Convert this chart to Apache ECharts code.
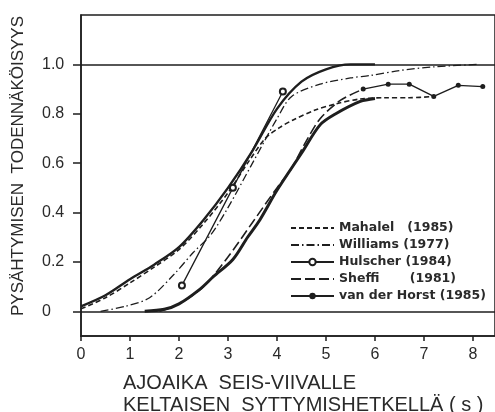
<!DOCTYPE html>
<html>
<head>
<meta charset="utf-8">
<script src="https://cdn.jsdelivr.net/npm/echarts@6/dist/echarts.min.js"></script>
<style>html,body{margin:0;padding:0;background:#fff}#c{width:495px;height:412px}</style>
</head>
<body>
<div id="c"></div>
<script>
// Tick values
const xTicks = [0, 1, 2, 3, 4, 5, 6, 7, 8];
const yTicks = [0, 0.2, 0.4, 0.6, 0.8, 1.0];

// Curves: [time (s), probability]
const vdhPlateau = [[5.76, 0.90], [6.27, 0.92], [6.7, 0.92], [7.2, 0.87], [7.7, 0.915], [8.2, 0.91]];
const vdhLeft = [[0, 0.02], [0.5, 0.065], [1, 0.13], [1.5, 0.19], [2, 0.26], [2.5, 0.37], [3, 0.5], [3.5, 0.65], [4, 0.82], [4.5, 0.93], [5, 0.98], [5.5, 1.0], [6, 1.0]];
const mahalelLeft = [[0, 0.01], [0.5, 0.055], [1, 0.115], [1.5, 0.18], [2, 0.25], [2.5, 0.355], [3, 0.48], [3.4, 0.6], [3.76, 0.70], [4.06, 0.745], [4.33, 0.775], [4.78, 0.815], [5.2, 0.84], [5.7, 0.86], [6.2, 0.865], [6.7, 0.865], [7.2, 0.87]];
const williams = [[0.4, 0], [0.9, 0.02], [1.4, 0.055], [1.9, 0.15], [2.3, 0.24], [2.65, 0.31], [3, 0.42], [3.5, 0.6], [4, 0.78], [4.3, 0.87], [4.88, 0.92], [5.5, 0.945], [5.9, 0.955], [6.5, 0.975], [7.2, 0.99], [8.1, 1.0]];
const hulscher = [[2.06, 0.105], [3.1, 0.5], [4.12, 0.89]];
const sheffi = [[1.6, 0.0], [2, 0.03], [2.5, 0.1], [3, 0.22], [3.5, 0.36], [4, 0.5], [4.27, 0.57], [4.6, 0.69], [4.88, 0.78], [5.3, 0.855], [5.76, 0.90]];
const rightThick = [[1.3, 0], [1.7, 0.008], [2, 0.03], [2.43, 0.09], [2.7, 0.14], [3.1, 0.21], [3.4, 0.3], [3.65, 0.37], [4, 0.49], [4.5, 0.64], [4.88, 0.755], [5.2, 0.8], [5.7, 0.85], [6.0, 0.862]];

const names = ['Mahalel   (1985)', 'Williams (1977)', 'Hulscher (1984)', 'Sheffi       (1981)', 'van der Horst (1985)'];
const ink = '#1e1e1e';
const font = 'Liberation Sans';

const chart = echarts.init(document.getElementById('c'), null, {renderer: 'canvas'});
chart.setOption({
  animation: false,
  backgroundColor: '#fff',
  grid: {left: 81, right: 0, top: 15, bottom: 76, show: true, borderColor: ink, borderWidth: 1.5, backgroundColor: 'transparent'},
  xAxis: {
    type: 'value', min: 0, max: 8.45,
    axisLine: {show: true, onZero: false, lineStyle: {color: ink, width: 1.5}},
    axisTick: {show: true, customValues: xTicks, length: 5, lineStyle: {color: ink, width: 1.5}},
    axisLabel: {customValues: xTicks, fontSize: 16, color: '#2a2a2a', margin: 11, fontFamily: font},
    splitLine: {show: false}
  },
  yAxis: {
    type: 'value', min: -0.1, max: 1.2,
    axisLine: {show: true, onZero: false, lineStyle: {color: ink, width: 1.5}},
    axisTick: {show: true, customValues: yTicks, length: 8, lineStyle: {color: ink, width: 1.5}},
    axisLabel: {customValues: yTicks, fontSize: 16, color: '#2a2a2a', margin: 39, align: 'left', fontFamily: font,
      formatter: v => v === 0 ? '0' : v.toFixed(1)},
    splitLine: {show: false}
  },
  legend: {
    orient: 'vertical', left: 290, top: 221, itemWidth: 43, itemHeight: 8, itemGap: 3, padding: 0,
    selectedMode: false,
    textStyle: {fontSize: 12.5, lineHeight: 14, fontWeight: 'bold', color: '#2a2a2a', fontFamily: 'DejaVu Sans'},
    data: [
      {name: names[0], itemStyle: {opacity: 0}},
      {name: names[1], itemStyle: {opacity: 0}},
      {name: names[2]},
      {name: names[3], itemStyle: {opacity: 0}},
      {name: names[4]}
    ]
  },
  graphic: [
    {type: 'text', left: 123, top: 373, style: {text: 'AJOAIKA  SEIS-VIIVALLE', font: '20px "Liberation Sans"', fill: '#2a2a2a'}},
    {type: 'text', left: 123, top: 395, style: {text: 'KELTAISEN  SYTTYMISHETKELLÄ ( s )', font: '20px "Liberation Sans"', fill: '#2a2a2a'}},
    {type: 'text', x: 18.5, y: 166, rotation: Math.PI / 2,
      style: {text: 'PYSÄHTYMISEN  TODENNÄKÖISYYS', font: '17px "Liberation Sans"', fill: '#2a2a2a', align: 'center', verticalAlign: 'middle'}}
  ],
  series: [
    {name: names[4], type: 'line', data: vdhPlateau, symbol: 'circle', symbolSize: 5, smooth: false,
      lineStyle: {color: ink, width: 1.4}, itemStyle: {color: ink}},
    {name: names[0], type: 'line', data: mahalelLeft, symbol: 'none', smooth: 0.3,
      lineStyle: {color: ink, width: 1.6, type: [5, 3]}, itemStyle: {color: ink}},
    {name: names[1], type: 'line', data: williams, symbol: 'none', smooth: 0.3,
      lineStyle: {color: ink, width: 1.3, type: [8, 3, 1.5, 3]}, itemStyle: {color: ink},
      markLine: {silent: true, symbol: 'none', label: {show: false}, lineStyle: {color: ink, width: 1.6, type: 'solid'},
        data: [{yAxis: 0}, {yAxis: 1}]}},
    {name: names[2], type: 'line', data: hulscher, symbol: 'emptyCircle', symbolSize: 6, smooth: false,
      lineStyle: {color: ink, width: 1.3}, itemStyle: {color: ink, borderWidth: 1.3}},
    {name: names[3], type: 'line', data: sheffi, symbol: 'none', smooth: 0.3,
      lineStyle: {color: ink, width: 1.6, type: [10, 4]}, itemStyle: {color: ink}},
    {name: names[4], type: 'line', data: vdhLeft, symbol: 'none', smooth: 0.3,
      lineStyle: {color: ink, width: 2.4}},
    {name: names[3], type: 'line', data: rightThick, symbol: 'none', smooth: 0.3,
      lineStyle: {color: ink, width: 3}}
  ]
});
</script>
</body>
</html>
